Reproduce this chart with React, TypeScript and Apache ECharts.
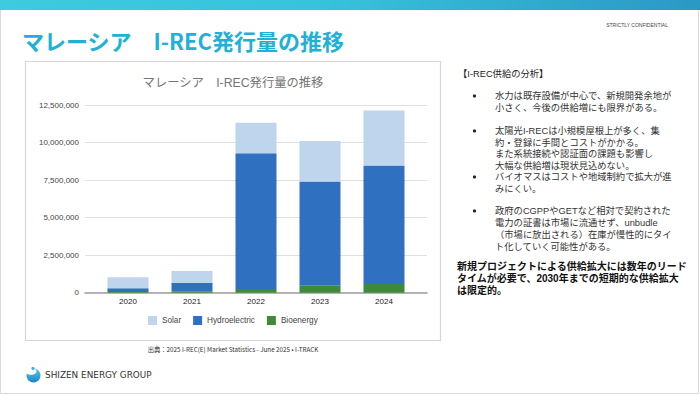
import React, { useEffect, useRef } from "react";
import * as echarts from "echarts";

const years = ["2020", "2021", "2022", "2023", "2024"];
const solar = [740000, 780000, 2020000, 2710000, 3660000];
const hydro = [250000, 570000, 9040000, 6930000, 7890000];
const bio = [40000, 100000, 250000, 470000, 580000];
const yTicks = { min: 0, max: 12500000, interval: 2500000 };

const panelHeader = "【I-REC供給の分析】";
const bullets: string[][] = [
  ["水力は既存設備が中心で、新規開発余地が", "小さく、今後の供給増にも限界がある。"],
  [
    "太陽光I-RECは小規模屋根上が多く、集",
    "約・登録に手間とコストがかかる。",
    "また系統接続や認証面の課題も影響し",
    "大幅な供給増は現状見込めない。",
  ],
  ["バイオマスはコストや地域制約で拡大が進", "みにくい。"],
  [
    "政府のCGPPやGETなど相対で契約された",
    "電力の証書は市場に流通せず、unbudle",
    "（市場に放出される）在庫が慢性的にタイ",
    "ト化していく可能性がある。",
  ],
];
const bulletY = [[96, 108], [131, 142.5, 154, 165.5], [177, 189], [211, 223, 235, 247]];
const conclusion = [
  "新規プロジェクトによる供給拡大には数年のリード",
  "タイムが必要で、2030年までの短期的な供給拡大",
  "は限定的。",
];
const conclusionY = [266, 278, 290];

const CJK = '"Noto Sans CJK JP", "Noto Sans", sans-serif';
const PANEL = '"Liberation Sans", "Noto Sans CJK JP", sans-serif';
const ARIAL = '"Liberation Sans", Arial, "Noto Sans CJK JP", sans-serif';

export default function App() {
  const ref = useRef<HTMLDivElement>(null);
  useEffect(() => {
    if (!ref.current) return;
    const chart = echarts.init(ref.current, undefined, { renderer: "svg" });

    const graphics: any[] = [
      { type: "rect", shape: { x: 0.5, y: 0.5, width: 698, height: 393 }, style: { fill: "#fff", stroke: "#d9d9d9", lineWidth: 1 }, z: -10 },
      {
        type: "rect",
        shape: { x: 0, y: 0, width: 700, height: 10 },
        style: {
          fill: new echarts.graphic.LinearGradient(0, 0, 1, 0, [
            { offset: 0, color: "#3dcbdf" },
            { offset: 0.45, color: "#37c3dc" },
            { offset: 1, color: "#2b98c6" },
          ]),
        },
      },
      {
        type: "text",
        x: 22,
        y: 40,
        style: { text: "マレーシア　I-REC発行量の推移", font: `bold 22px ${CJK}`, fill: "#22b1d6", textVerticalAlign: "middle" },
      },
      {
        type: "text",
        x: 668,
        y: 25,
        style: { text: "STRICTLY CONFIDENTIAL", font: `5px ${ARIAL}`, fill: "#444", textAlign: "right", textVerticalAlign: "middle" },
      },
      { type: "rect", shape: { x: 25.5, y: 61.5, width: 415, height: 279 }, style: { fill: "#fff", stroke: "#d6d6d6", lineWidth: 1.2 }, z: -5 },
      {
        type: "text",
        x: 233,
        y: 83,
        style: { text: "マレーシア　I-REC発行量の推移", font: `12.3px ${ARIAL}`, fill: "#757575", textAlign: "center", textVerticalAlign: "middle" },
      },
      {
        type: "text",
        x: 233,
        y: 349,
        style: { text: "出典：2025 I-REC(E) Market Statistics - June 2025 • I-TRACK", font: `6.3px ${CJK}`, fill: "#333", textAlign: "center", textVerticalAlign: "middle" },
      },
      // logo
      {
        type: "circle",
        shape: { cx: 33.5, cy: 375.5, r: 7 },
        style: {
          fill: new echarts.graphic.LinearGradient(0, 0, 0, 1, [
            { offset: 0, color: "#5cc4ec" },
            { offset: 1, color: "#1a86c8" },
          ]),
        },
      },
      { type: "ellipse", shape: { cx: 31, cy: 371.5, rx: 5.5, ry: 3.2 }, style: { fill: "#fff" } },
      { type: "circle", shape: { cx: 33, cy: 368.5, r: 1.6 }, style: { fill: "#3fb0e3" } },
      {
        type: "text",
        x: 45,
        y: 375,
        style: { text: "SHIZEN ENERGY GROUP", font: `500 8.9px ${'"DejaVu Sans", sans-serif'}`, fill: "#333", textVerticalAlign: "middle" },
      },
      {
        type: "text",
        x: 458,
        y: 74,
        style: { text: panelHeader, font: `9.3px ${PANEL}`, fill: "#222", textVerticalAlign: "middle" },
      },
    ];

    bullets.forEach((lines, bi) => {
      graphics.push({ type: "circle", shape: { cx: 474.5, cy: bulletY[bi][0], r: 1.6 }, style: { fill: "#222" } });
      lines.forEach((ln, li) => {
        graphics.push({
          type: "text",
          x: 495,
          y: bulletY[bi][li],
          style: { text: ln, font: `9.3px ${PANEL}`, fill: "#333", textVerticalAlign: "middle" },
        });
      });
    });
    conclusion.forEach((ln, i) => {
      graphics.push({
        type: "text",
        x: 457,
        y: conclusionY[i],
        style: { text: ln, font: `bold 10px ${PANEL}`, fill: "#111", textVerticalAlign: "middle" },
      });
    });

    const option: any = {
      animation: false,
      backgroundColor: "transparent",
      graphic: graphics,
      legend: {
        left: 148,
        top: 316,
        padding: 0,
        itemWidth: 9,
        itemHeight: 9,
        itemGap: 12,
        icon: "rect",
        textStyle: { fontSize: 8.2, color: "#444", fontFamily: ARIAL },
        data: ["Solar", "Hydroelectric", "Bioenergy"],
      },
      grid: [
        { left: 85, right: 273, top: 105, bottom: 102.3, containLabel: false },
        { left: 96, right: 284, top: 105, bottom: 102.3, containLabel: false },
      ],
      xAxis: [
        {
          type: "category",
          gridIndex: 0,
          data: years,
          axisLine: { show: true, lineStyle: { color: "#9e9e9e", width: 1.5 } },
          axisTick: { show: false },
          axisLabel: { show: false },
        },
        {
          type: "category",
          gridIndex: 1,
          data: years,
          axisLine: { show: false },
          axisTick: { show: false },
          axisLabel: { fontSize: 8, color: "#222", margin: 5, fontFamily: ARIAL },
        },
      ],
      yAxis: [
        {
          type: "value",
          gridIndex: 0,
          ...yTicks,
          axisLine: { show: false },
          axisTick: { show: false },
          axisLabel: {
            fontSize: 8,
            color: "#444",
            margin: 6,
            fontFamily: ARIAL,
            formatter: (v: number) => v.toLocaleString("en-US"),
          },
          splitLine: { lineStyle: { color: "#e0e0e0", width: 1 } },
        },
        {
          type: "value",
          gridIndex: 1,
          ...yTicks,
          show: false,
          splitLine: { show: false },
        },
      ],
      series: [
        { name: "Bioenergy", type: "bar", stack: "t", xAxisIndex: 1, yAxisIndex: 1, barWidth: 41, data: bio, itemStyle: { color: "#3f8a3a" } },
        { name: "Hydroelectric", type: "bar", stack: "t", xAxisIndex: 1, yAxisIndex: 1, barWidth: 41, data: hydro, itemStyle: { color: "#2f70c0" } },
        { name: "Solar", type: "bar", stack: "t", xAxisIndex: 1, yAxisIndex: 1, barWidth: 41, data: solar, itemStyle: { color: "#bfd5ed" } },
      ],
    };
    chart.setOption(option);
    return () => chart.dispose();
  }, []);

  return <div ref={ref} style={{ position: "fixed", left: 0, top: 0, width: 700, height: 395, background: "#fff" }} />;
}
